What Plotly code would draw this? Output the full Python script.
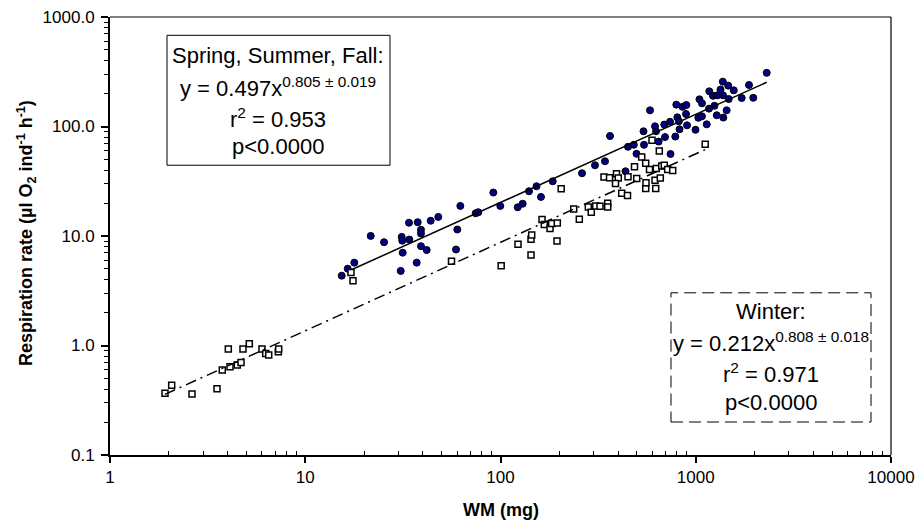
import plotly.graph_objects as go

# ---------------- data ----------------
# Spring, Summer, Fall (filled circles): wet mass (mg) and respiration (ul O2 ind-1 h-1)
ssf_wm = [15.37, 16.50, 17.83, 21.64, 25.32, 30.83, 31.19, 31.41, 31.56, 33.99,
          34.11, 37.22, 37.66, 39.15, 39.15, 39.15, 41.88, 43.91, 48.02, 59.17,
          60.09, 62.27, 74.64, 76.96, 91.86, 99.77, 122.5, 129.9, 140.0, 152.9,
          161.2, 185.1, 261.5, 304.8, 342.9, 363.8, 436.8, 449.8, 481.6, 497.2,
          540.0, 543.3, 583.2, 618.6, 625.9, 645.7, 690.2, 695.8, 738.2, 742.6,
          785.9, 795.2, 804.6, 825.8, 820.0, 855.5, 894.8, 891.7, 902.3, 997.1,
          1045, 1076, 1031, 1076, 1138, 1173, 1169, 1247, 1226, 1281,
          1293, 1339, 1376, 1379, 1384, 1440, 1466, 1475, 1566, 1719,
          1874, 1971, 2309]
ssf_resp = [4.34, 5.03, 5.71, 10.02, 8.78, 4.80, 9.81, 9.06, 7.04, 13.22,
            9.29, 5.71, 13.36, 11.41, 10.54, 8.07, 7.45, 13.79, 14.94, 7.53,
            11.46, 18.82, 16.14, 16.49, 24.94, 18.82, 18.31, 19.71, 25.63, 28.48,
            22.74, 31.62, 37.41, 44.26, 48.14, 81.90, 39.01, 65.27, 68.08, 56.34,
            90.42, 68.08, 140.5, 100.4, 90.42, 72.81, 104.1, 80.06, 110.4, 56.11,
            80.89, 158.4, 121.3, 94.3, 111.5, 151.2, 157.1, 130.1, 102.5, 93.31,
            177.1, 162.8, 120.1, 123.9, 104.7, 209.5, 145.6, 154.5, 190.6, 126.6,
            192.6, 217.6, 256.8, 192.6, 120.6, 140.5, 236.2, 178.2, 213.9, 182.0,
            239.2, 182.8, 309.0]

# Winter (open squares)
win_wm = [1.913, 2.070, 2.630, 3.532, 3.759, 4.036, 4.118, 4.487, 4.688, 4.799,
          5.170, 6.003, 6.273, 6.500, 7.278, 7.311, 17.15, 17.56, 56.11, 100.8,
          122.9, 143.3, 143.3, 144.5, 163.2, 167.6, 179.3, 182.9, 195.4, 194.7,
          204.6, 237.1, 253.3, 281.7, 291.7, 307.4, 323.3, 354.0, 354.0, 338.9,
          361.7, 392.8, 401.2, 388.2, 417.6, 447.2, 449.8, 485.7, 498.4, 528.7,
          554.2, 554.2, 556.2, 579.6, 597.0, 623.6, 618.4, 650.6, 628.1, 669.4,
          658.4, 690.1, 718.3, 762.0, 1118]
win_resp = [0.3656, 0.4325, 0.3602, 0.4026, 0.5964, 0.927, 0.639, 0.6626, 0.7012, 0.927,
            1.036, 0.927, 0.847, 0.8172, 0.8761, 0.927, 4.645, 3.894, 5.890, 5.358,
            8.419, 6.722, 9.350, 10.23, 14.14, 12.73, 11.71, 13.00, 13.17, 9.00,
            27.02, 17.63, 14.23, 18.43, 16.49, 18.82, 18.70, 19.92, 18.43, 34.61,
            34.03, 37.02, 33.89, 30.13, 24.58, 23.42, 34.76, 42.89, 33.46, 52.69,
            46.15, 27.13, 30.64, 40.45, 74.83, 27.13, 32.29, 59.76, 41.30, 43.61,
            33.89, 44.26, 40.45, 39.60, 68.80]

# power-law fits  y = a * x^b
ssf_a, ssf_b = 0.497, 0.805
win_a, win_b = 0.212, 0.808
ssf_fit_x = [17.35, 2309]
win_fit_x = [1.913, 1118]

x_tickvals = [1, 10, 100, 1000, 10000]
x_ticktext = ["1", "10", "100", "1000", "10000"]
y_tickvals = [0.1, 1, 10, 100, 1000]
y_ticktext = ["0.1", "1.0", "10.0", "100.0", "1000.0"]

x_title = "<b>WM (mg)</b>"
y_title = "<b>Respiration rate (µl O<sub>2</sub> ind<sup>-1</sup> h<sup>-1</sup>)</b>"

ssf_label = ["Spring, Summer, Fall:", "y = 0.497x<sup>0.805 ± 0.019</sup>",
             "r<sup>2</sup> = 0.953", "p<0.0000"]
win_label = ["Winter:", "y = 0.212x<sup>0.808 ± 0.018</sup>",
             "r<sup>2</sup> = 0.971", "p<0.0000"]

# ---------------- figure ----------------
FONT = "Arial, Liberation Sans, sans-serif"
fig = go.Figure()

fig.add_trace(go.Scatter(
    x=ssf_wm, y=ssf_resp, mode="markers",
    marker=dict(symbol="circle", size=7, color="#000080",
                line=dict(color="black", width=1)),
    showlegend=False, cliponaxis=False))

fig.add_trace(go.Scatter(
    x=win_wm, y=win_resp, mode="markers",
    marker=dict(symbol="square", size=6, color="white",
                line=dict(color="black", width=1.5)),
    showlegend=False, cliponaxis=False))

fig.add_trace(go.Scatter(
    x=ssf_fit_x, y=[ssf_a * v ** ssf_b for v in ssf_fit_x], mode="lines",
    line=dict(color="black", width=1.5), showlegend=False))

fig.add_trace(go.Scatter(
    x=win_fit_x, y=[win_a * v ** win_b for v in win_fit_x], mode="lines",
    line=dict(color="black", width=1.5, dash="11px,5px,2px,5px"), showlegend=False))

minor_vals = [m * 10 ** e for e in range(-1, 4) for m in range(2, 10)]

fig.update_xaxes(
    type="log", range=[0, 4], automargin=False,
    tickmode="array", tickvals=x_tickvals, ticktext=x_ticktext,
    ticks="outside", ticklen=6, tickwidth=1.5, tickcolor="black",
    showline=True, linecolor="black", linewidth=2, mirror=False,
    showgrid=False, zeroline=False,
    minor=dict(tickmode="array", tickvals=minor_vals, ticks="inside",
               ticklen=4, tickwidth=1, tickcolor="black", showgrid=False),
    tickfont=dict(family=FONT, size=17, color="black"),
)
fig.update_yaxes(
    type="log", range=[-1, 3], automargin=False,
    tickmode="array", tickvals=y_tickvals, ticktext=y_ticktext,
    ticks="outside", ticklen=7, tickwidth=1.5, tickcolor="black",
    showline=True, linecolor="black", linewidth=2, mirror=False,
    showgrid=False, zeroline=False, ticklabelstandoff=3,
    minor=dict(tickmode="array", tickvals=minor_vals, ticks="outside",
               ticklen=4, tickwidth=1, tickcolor="black", showgrid=False),
    tickfont=dict(family=FONT, size=17, color="black"),
)

shapes = [
    # thin top and right frame
    dict(type="line", xref="paper", yref="paper", x0=0, x1=1, y0=1, y1=1,
         line=dict(color="black", width=1)),
    dict(type="line", xref="paper", yref="paper", x0=1, x1=1, y0=0, y1=1,
         line=dict(color="black", width=1.2)),
    # text boxes
    dict(type="rect", xref="paper", yref="paper", x0=0.0730, x1=0.3585,
         y0=0.6616, y1=0.9582, line=dict(color="black", width=1), fillcolor="white",
         layer="below"),
    dict(type="rect", xref="paper", yref="paper", x0=0.7183, x1=0.9744,
         y0=0.0753, y1=0.3703, line=dict(color="black", width=1, dash="12px,6px"),
         fillcolor="rgba(0,0,0,0)"),
]

annotations = [
    dict(text=x_title, xref="paper", yref="paper", x=0.5, y=-0.1256,
         xanchor="center", yanchor="middle", showarrow=False,
         font=dict(family=FONT, size=18, color="black")),
    dict(text=y_title, xref="paper", yref="paper", x=-0.1076, y=0.5068,
         xanchor="center", yanchor="middle", showarrow=False, textangle=-90,
         font=dict(family=FONT, size=18, color="black")),
]
for txt, yy in zip(ssf_label, [0.9132, 0.8398, 0.7683, 0.7032]):
    annotations.append(dict(text=txt, xref="paper", yref="paper", x=0.2155, y=yy,
                            xanchor="center", yanchor="middle", showarrow=False,
                            font=dict(family=FONT, size=22, color="black")))
for txt, yy in zip(win_label, [0.3272, 0.2576, 0.1865, 0.1210]):
    annotations.append(dict(text=txt, xref="paper", yref="paper", x=0.8461, y=yy,
                            xanchor="center", yanchor="middle", showarrow=False,
                            font=dict(family=FONT, size=22, color="black")))

fig.update_layout(
    width=917, height=524,
    margin=dict(l=110, r=26, t=17, b=69, autoexpand=False),
    paper_bgcolor="white", plot_bgcolor="white",
    font=dict(family=FONT, color="black"),
    shapes=shapes, annotations=annotations, showlegend=False,
)

fig.write_html(
    "out.html",
    config={"displayModeBar": False},
    post_script="document.body.style.margin='0px';document.body.style.overflow='hidden';",
)
